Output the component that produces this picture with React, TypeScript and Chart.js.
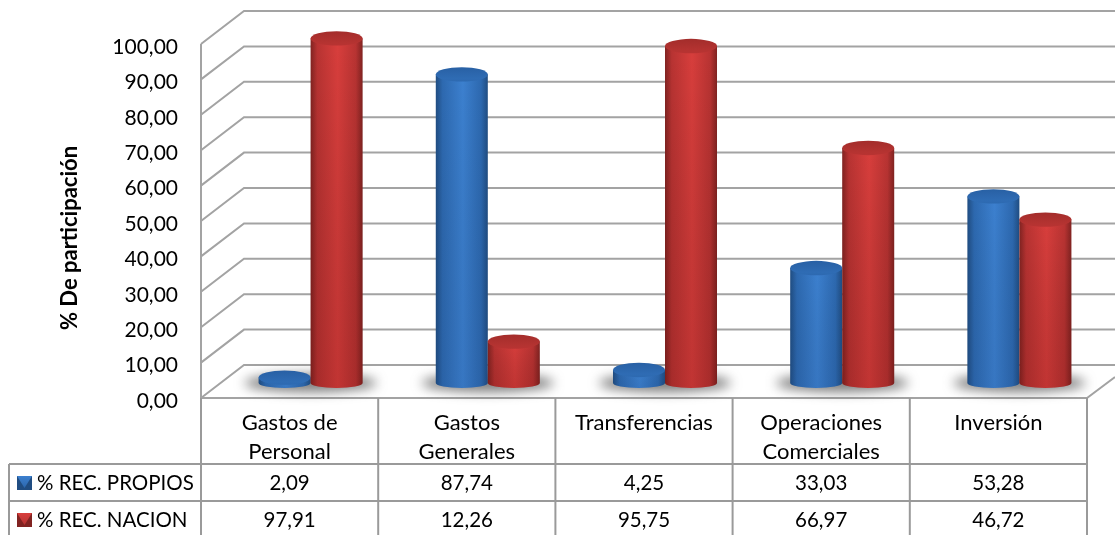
import React, { useEffect, useRef } from "react";
import { Chart, registerables } from "chart.js";

Chart.register(...registerables);

const categories = [["Gastos de", "Personal"], ["Gastos", "Generales"], ["Transferencias"], ["Operaciones", "Comerciales"], ["Inversión"]];
const propios = [2.09, 87.74, 4.25, 33.03, 53.28];
const nacion = [97.91, 12.26, 95.75, 66.97, 46.72];
const seriesNames = ["% REC. PROPIOS", "% REC. NACION"];
const axisTitle = "% De participación";

const FONT = "Lato, Carlito, sans-serif";
const GRID = "#a3a3a3";
const DX = 21;
const DY_TOP = -13;
const DY_BASE = -15;
const BACK_X = 43;
const BACK_Y = -33;
const RY_TOP = 7.2;
const RY_BASE = 5;

const palettes = [
  { edge: "#204d82", mid: "#2d69b0", bright: "#3c80cf", top: "#2f6cb4", topDark: "#2860a4", low: "rgba(20,50,100,0.12)" },
  { edge: "#812321", mid: "#b83332", bright: "#d83e3c", top: "#b53331", topDark: "#a32d2b", low: "rgba(90,10,10,0.18)" },
];

function fmt(v: number) {
  return v.toFixed(2).replace(".", ",");
}

function cylinder(ctx: CanvasRenderingContext2D, x: number, top: number, base: number, r: number, p: any) {
  const grad = ctx.createLinearGradient(x - r, 0, x + r, 0);
  grad.addColorStop(0, p.edge);
  grad.addColorStop(0.13, p.mid);
  grad.addColorStop(0.52, p.bright);
  grad.addColorStop(0.87, p.mid);
  grad.addColorStop(1, p.edge);
  const body = () => {
    ctx.beginPath();
    ctx.moveTo(x - r, top);
    ctx.lineTo(x - r, base);
    ctx.ellipse(x, base, r, RY_BASE, 0, Math.PI, 0, true);
    ctx.lineTo(x + r, top);
    ctx.closePath();
  };
  body();
  ctx.fillStyle = grad;
  ctx.fill();
  const shade = ctx.createLinearGradient(0, top, 0, base + RY_BASE);
  shade.addColorStop(0, "rgba(0,0,0,0)");
  shade.addColorStop(1, p.low);
  body();
  ctx.fillStyle = shade;
  ctx.fill();
  const cap = ctx.createLinearGradient(0, top - RY_TOP, 0, top + RY_TOP);
  cap.addColorStop(0, p.topDark);
  cap.addColorStop(0.8, p.top);
  cap.addColorStop(1, p.mid);
  ctx.beginPath();
  ctx.ellipse(x, top, r, RY_TOP, 0, 0, Math.PI * 2);
  ctx.fillStyle = cap;
  ctx.fill();
}

const scene3d = {
  id: "scene3d",
  afterLayout(chart: any) {
    // the axis title sits lower than the middle of the axis in the reference
    const y = chart.scales.y;
    y.bottom += 34;
    // its tick labels sit slightly under the front edge of each wall line
    const draw = y.drawLabels;
    y.drawLabels = function (area: any) {
      chart.ctx.save();
      chart.ctx.translate(0, 3);
      draw.call(this, area);
      chart.ctx.restore();
    };
  },
  beforeDatasetsDraw(chart: any) {
    const { ctx, chartArea, scales } = chart;
    const { left, right, bottom } = chartArea;
    ctx.save();
    ctx.strokeStyle = GRID;
    ctx.lineWidth = 2;
    const line = (pts: number[][]) => {
      ctx.beginPath();
      pts.forEach((p, i) => (i ? ctx.lineTo(p[0], p[1]) : ctx.moveTo(p[0], p[1])));
      ctx.stroke();
    };
    scales.y.ticks.forEach((t: any) => {
      const y = scales.y.getPixelForValue(t.value);
      line([[left, y], [left + BACK_X, y + BACK_Y], [1115, y + BACK_Y]]);
    });
    line([[left, scales.y.getPixelForValue(100)], [left, bottom]]);
    line([[left, bottom], [right, bottom], [1115, bottom - 21]]);
    // shadows on the floor
    ctx.filter = "blur(6px)";
    ctx.fillStyle = "rgba(80,80,80,0.75)";
    categories.forEach((_, i) => {
      const cx = scales.x.getPixelForValue(i) + DX;
      ctx.beginPath();
      ctx.ellipse(cx, bottom - 15, 66, 9, 0, 0, Math.PI * 2);
      ctx.fill();
    });
    ctx.filter = "none";
    // cylinders: blue row first, red in front of it
    [0, 1].forEach((d) => {
      chart.getDatasetMeta(d).data.forEach((el: any) => {
        const p = el.getProps(["x", "y", "base", "width"], true);
        cylinder(ctx, p.x + DX, p.y + DY_TOP, p.base + DY_BASE, p.width / 2, palettes[d]);
      });
    });
    ctx.restore();
    return false;
  },
  afterDraw(chart: any) {
    const { ctx, chartArea, scales, data } = chart;
    const { left, right, bottom } = chartArea;
    const rows = [464, 501];
    const tableLeft = 9;
    const canvasBottom = 535;
    ctx.save();
    ctx.strokeStyle = "#9a9a9a";
    ctx.lineWidth = 2;
    const seg = (a: number, b: number, c: number, d: number) => {
      ctx.beginPath();
      ctx.moveTo(a, b);
      ctx.lineTo(c, d);
      ctx.stroke();
    };
    rows.forEach((y) => seg(tableLeft, y, right, y));
    seg(tableLeft, rows[0], tableLeft, canvasBottom);
    const colW = (right - left) / categories.length;
    for (let i = 0; i <= categories.length; i++) {
      seg(left + i * colW, bottom, left + i * colW, canvasBottom);
    }
    ctx.fillStyle = "#000";
    ctx.font = `20.5px ${FONT}`;
    ctx.textBaseline = "middle";
    data.datasets.forEach((ds: any, d: number) => {
      const cy = [483, 520][d];
      const p = palettes[d];
      ctx.fillStyle = p.edge;
      ctx.fillRect(17, cy - 7, 15, 14);
      const g = ctx.createLinearGradient(0, cy - 7, 0, cy + 4);
      g.addColorStop(0, p.bright);
      g.addColorStop(1, p.mid);
      ctx.fillStyle = g;
      ctx.beginPath();
      ctx.moveTo(17, cy - 7);
      ctx.lineTo(32, cy - 7);
      ctx.lineTo(24.5, cy + 5);
      ctx.closePath();
      ctx.fill();
      ctx.fillStyle = "#000";
      ctx.textAlign = "left";
      ctx.fillText(ds.label, 37, cy);
      ctx.textAlign = "center";
      ds.data.forEach((v: number, i: number) => {
        ctx.fillText(fmt(v), scales.x.getPixelForValue(i), cy);
      });
    });
    ctx.restore();
  },
};

export default function App() {
  const ref = useRef<HTMLCanvasElement>(null);
  useEffect(() => {
    const chart = new Chart(ref.current as HTMLCanvasElement, {
      type: "bar",
      data: {
        labels: categories as any,
        datasets: [
          { label: seriesNames[0], data: propios, backgroundColor: palettes[0].bright },
          { label: seriesNames[1], data: nacion, backgroundColor: palettes[1].bright },
        ],
      },
      options: {
        responsive: false,
        animation: false,
        layout: { padding: { left: 57, top: 44, right: 28, bottom: 0 } },
        plugins: { legend: { display: false }, tooltip: { enabled: false } },
        datasets: { bar: { categoryPercentage: 0.587, barPercentage: 1 } },
        scales: {
          x: {
            grid: { display: false },
            border: { display: false },
            afterFit: (s: any) => { s.height = 137; },
            ticks: {
              color: "#000",
              autoSkip: false,
              maxRotation: 0,
              minRotation: 0,
              padding: 2,
              font: { family: FONT, size: 22, lineHeight: 1.32 },
            },
          },
          y: {
            min: 0,
            max: 100,
            grid: { display: false },
            border: { display: false },
            afterFit: (s: any) => { s.width = 144; },
            ticks: {
              stepSize: 10,
              color: "#000",
              padding: 15,
              font: { family: FONT, size: 21 },
              callback: (v: any) => fmt(Number(v)),
            },
            title: {
              display: true,
              text: axisTitle,
              color: "#000",
              padding: 0,
              font: { family: FONT, size: 22, weight: "bold" },
            },
          },
        },
      },
      plugins: [scene3d],
    } as any);
    return () => chart.destroy();
  }, []);
  return (
    <div style={{ position: "absolute", left: 0, top: 0, width: 1115, height: 535, background: "#fff", overflow: "hidden" }}>
      <canvas ref={ref} width={1115} height={535} style={{ display: "block" }} />
    </div>
  );
}
